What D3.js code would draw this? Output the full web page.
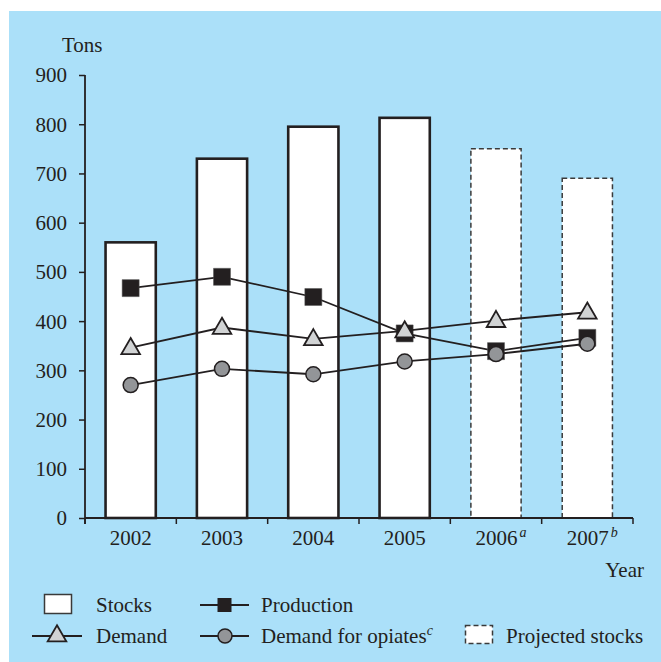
<!DOCTYPE html>
<html><head><meta charset="utf-8">
<script src="https://cdn.jsdelivr.net/npm/d3@7"></script>
<style>
html,body{margin:0;padding:0;background:#fff;}
svg{display:block;}
text{font-family:'Liberation Serif','Times New Roman','DejaVu Serif',serif;fill:#231f20;}
</style></head>
<body>
<svg id="c" width="661" height="662"></svg>
<script>
const years = ["2002","2003","2004","2005","2006","2007"];
const yearSup = ["","","","","a","b"];
const stocks = [560, 730, 795, 813, 750, 690];
const projected = [false, false, false, false, true, true];
const production = [467, 490, 449, 375, 339, 366];
const demand = [346, 387, 364, 380, 401, 418];
const opiates = [270, 303, 292, 318, 333, 354];
const yTicks = [0,100,200,300,400,500,600,700,800,900];

const ink = "#231f20";
const FS = 21;
const svg = d3.select("#c");
svg.append("rect").attr("x",9).attr("y",11).attr("width",652).attr("height",651).attr("fill","#abe0f9");

const x = d3.scaleBand().domain(years).range([85,633]).paddingInner(0.45).paddingOuter(0.225);
const y = d3.scaleLinear().domain([0,900]).range([518,75]);
const cx = d => x(d) + x.bandwidth()/2;

// bars
svg.append("g").selectAll("rect").data(years).join("rect")
  .attr("x", d => x(d)).attr("width", x.bandwidth())
  .attr("y", (d,i) => y(stocks[i])).attr("height", (d,i) => y(0) - y(stocks[i]))
  .attr("fill","#fff")
  .attr("stroke", (d,i) => projected[i] ? "#3a3a3a" : ink)
  .attr("stroke-width", (d,i) => projected[i] ? 1.5 : 2.6)
  .attr("stroke-dasharray", (d,i) => projected[i] ? "5,3" : null);

// y axis
const ya = svg.append("g").attr("transform","translate(85,0)")
  .call(d3.axisLeft(y).tickValues(yTicks).tickSize(6).tickSizeOuter(0).tickPadding(12));
ya.attr("font-family",null).attr("font-size",null);
ya.select(".domain").remove();
ya.selectAll(".tick line").attr("stroke",ink).attr("stroke-width",1.5);
ya.selectAll(".tick text").attr("font-size",FS).attr("fill",ink).attr("dy","0.33em");
svg.append("line").attr("x1",85).attr("x2",85).attr("y1",y(900)).attr("y2",524).attr("stroke",ink).attr("stroke-width",1.8);

// x axis
svg.append("line").attr("x1",85).attr("x2",633).attr("y1",518).attr("y2",518).attr("stroke",ink).attr("stroke-width",1.8);
const bounds = d3.range(years.length+1).map(i => x.range()[0] + i*x.step());
svg.append("g").selectAll("line").data(bounds).join("line")
  .attr("x1",d=>d).attr("x2",d=>d).attr("y1",518).attr("y2",524).attr("stroke",ink).attr("stroke-width",1.5);
const xl = svg.append("g").selectAll("text").data(years).join("text")
  .attr("x", (d,i) => cx(d) + (yearSup[i] ? 5 : 0)).attr("y",545)
  .attr("text-anchor","middle").attr("font-size",FS);
xl.append("tspan").text(d=>d);
xl.append("tspan").attr("font-style","italic").attr("font-size",14).attr("dy",-8).attr("dx",2)
  .text((d,i)=>yearSup[i]);

svg.append("text").attr("x",62).attr("y",52).attr("font-size",FS).text("Tons");
svg.append("text").attr("x",644).attr("y",577).attr("text-anchor","end").attr("font-size",FS).text("Year");

// series
const line = d3.line().x((d,i)=>cx(years[i])).y(d=>y(d));
function drawLine(vals){
  svg.append("path").attr("d",line(vals)).attr("fill","none").attr("stroke",ink).attr("stroke-width",1.8);
}
const sq = d3.symbol().type(d3.symbolSquare).size(17*17);
const tri = d3.symbol().type(d3.symbolTriangle).size(150);
const circ = d3.symbol().type(d3.symbolCircle).size(Math.PI*7.5*7.5);

drawLine(production);
svg.append("g").selectAll("path").data(production).join("path")
  .attr("d", sq).attr("transform",(d,i)=>`translate(${cx(years[i])},${y(d)})`)
  .attr("fill",ink).attr("stroke","#555").attr("stroke-width",0.5);
drawLine(demand);
svg.append("g").selectAll("path").data(demand).join("path")
  .attr("d", tri).attr("transform",(d,i)=>`translate(${cx(years[i])},${y(d)+1})`)
  .attr("fill","#d1d3d4").attr("stroke",ink).attr("stroke-width",1.8);
drawLine(opiates);
svg.append("g").selectAll("path").data(opiates).join("path")
  .attr("d", circ).attr("transform",(d,i)=>`translate(${cx(years[i])},${y(d)})`)
  .attr("fill","#939598").attr("stroke",ink).attr("stroke-width",1.5);

// legend
const lg = svg.append("g");
lg.append("rect").attr("x",44.5).attr("y",594.5).attr("width",27).attr("height",19).attr("fill","#fff").attr("stroke","#3a3a3a").attr("stroke-width",1.5);
lg.append("text").attr("x",96).attr("y",612).attr("font-size",FS).text("Stocks");
lg.append("line").attr("x1",200).attr("x2",249).attr("y1",605).attr("y2",605).attr("stroke",ink).attr("stroke-width",1.8);
lg.append("path").attr("d",d3.symbol().type(d3.symbolSquare).size(14*14)).attr("transform","translate(224.5,605)").attr("fill",ink);
lg.append("text").attr("x",261).attr("y",612).attr("font-size",FS).text("Production");
lg.append("line").attr("x1",32).attr("x2",82).attr("y1",636).attr("y2",636).attr("stroke",ink).attr("stroke-width",1.8);
lg.append("path").attr("d",tri).attr("transform","translate(57,636)").attr("fill","#d1d3d4").attr("stroke",ink).attr("stroke-width",1.8);
lg.append("text").attr("x",96).attr("y",643).attr("font-size",FS).text("Demand");
lg.append("line").attr("x1",200).attr("x2",249).attr("y1",636).attr("y2",636).attr("stroke",ink).attr("stroke-width",1.8);
lg.append("path").attr("d",d3.symbol().type(d3.symbolCircle).size(Math.PI*7*7)).attr("transform","translate(225,636)").attr("fill","#939598").attr("stroke",ink).attr("stroke-width",1.5);
const t5 = lg.append("text").attr("x",261).attr("y",643).attr("font-size",FS);
t5.append("tspan").text("Demand for opiates");
t5.append("tspan").attr("font-style","italic").attr("font-size",14).attr("dy",-8).text("c");
lg.append("rect").attr("x",465.5).attr("y",625.5).attr("width",27).attr("height",18).attr("fill","#fff").attr("stroke","#3a3a3a").attr("stroke-width",1.5).attr("stroke-dasharray","5,3");
lg.append("text").attr("x",506).attr("y",643).attr("font-size",FS).text("Projected stocks");
</script>
</body></html>
